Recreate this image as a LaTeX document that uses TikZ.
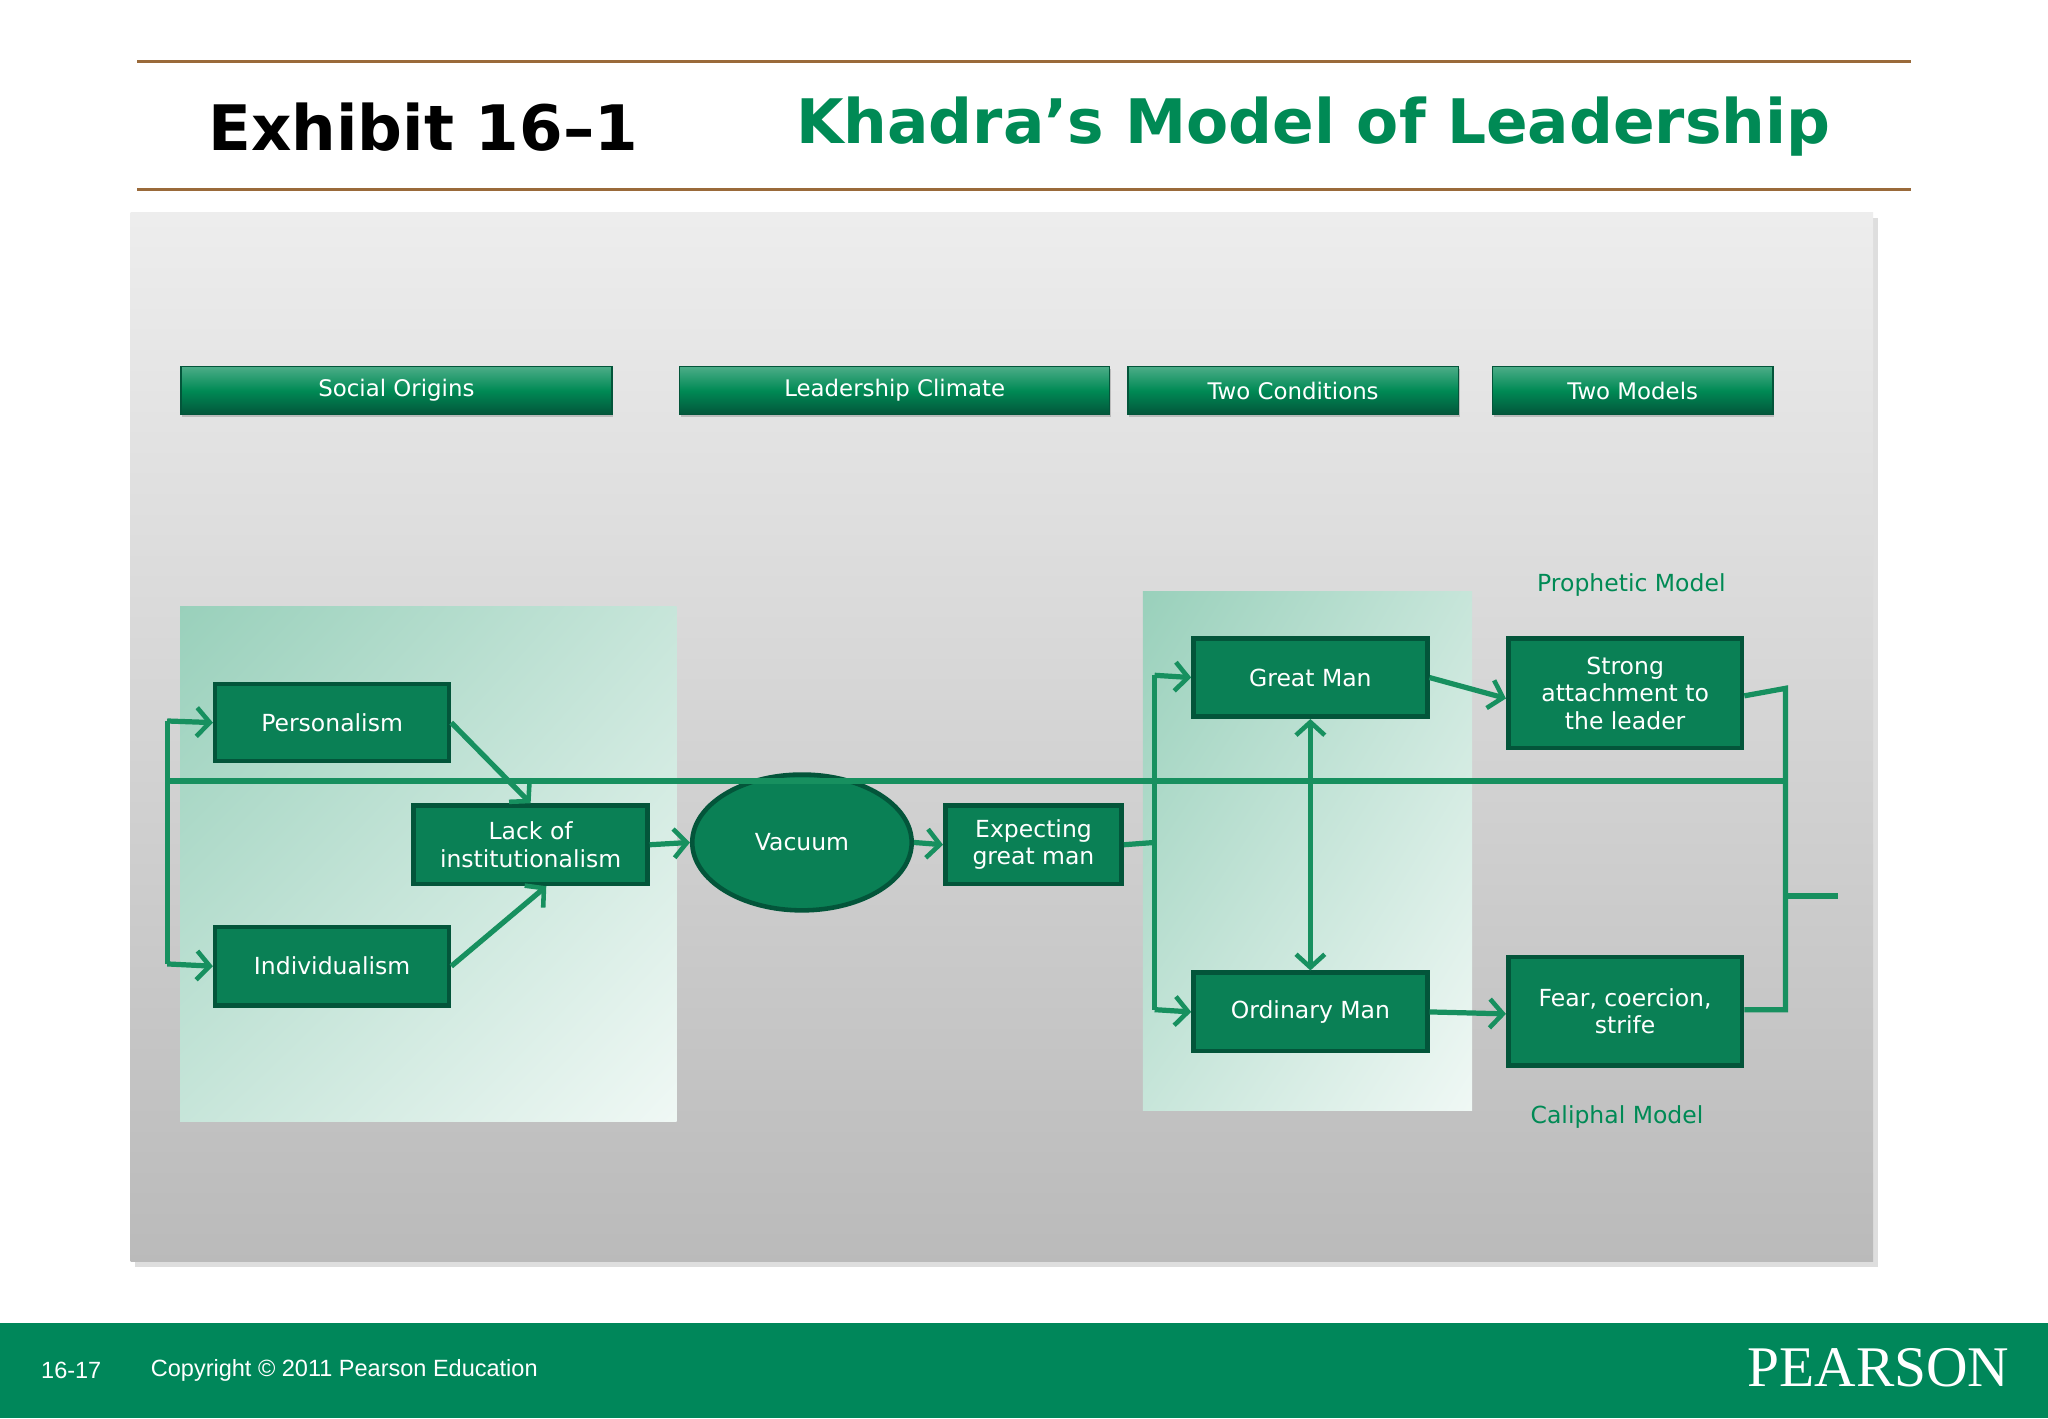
\documentclass[tikz,border=0pt]{standalone}
\usepackage{fontspec}
\setmainfont{DejaVu Sans}
\newfontfamily\arialf{Liberation Sans}
\newfontfamily\serf{Liberation Serif}
\usetikzlibrary{arrows.meta,shadows,shadings,shapes.geometric}
\definecolor{pg}{HTML}{00875A}
\definecolor{bx}{HTML}{0A8055}
\definecolor{bxd}{HTML}{03553A}
\definecolor{ln}{HTML}{17905F}
\definecolor{brn}{HTML}{9A6A3A}
\definecolor{ttl}{HTML}{008A55}
\tikzset{
 gbox/.style={draw=bxd,line width=3.5pt,fill=bx,text=white,font=\fontsize{18}{21}\selectfont,align=center,inner sep=0pt},
 hdr/.style={draw=bxd,line width=1pt,top color=ttl!70!white,bottom color=bxd,middle color=ttl,text=white,font=\fontsize{17.5}{20}\selectfont,inner sep=0pt,drop shadow={shadow xshift=1pt,shadow yshift=-2pt,opacity=.4}},
 conn/.style={draw=ln,line width=4pt},
 tip/.tip={Straight Barb[length=10pt,width=22pt,line width=3.5pt]},
 arr/.style={conn,-tip},
 lbl/.style={text=ttl,font=\fontsize{18}{20}\selectfont}
}
\begin{document}
\begin{tikzpicture}[x=1pt,y=-1pt]
\useasboundingbox (0,0) rectangle (1568,1086);
\fill[white] (0,0) rectangle (1568,1086);
\draw[brn,line width=2.5pt] (105,47) -- (1463,47);
\draw[brn,line width=2.5pt] (105,145) -- (1463,145);
\node[font=\bfseries\fontsize{48}{54}\selectfont,anchor=west] (t1) at (156,97) {Exhibit 16–1};
\node[font=\bfseries\fontsize{47}{54}\selectfont,anchor=west,text=ttl] (t2) at (606,97) {Khadra’s Model of Leadership};
% panel
\fill[black!25,opacity=.5] (103,167) rectangle (1438,970);
\shade[top color=black!7,bottom color=black!27] (100,163) rectangle (1434,966);
% header buttons
\node[hdr,minimum width=330pt,minimum height=37pt,anchor=north west] (h1) at (138,280) {Social Origins};
\node[hdr,minimum width=329pt,minimum height=37pt,anchor=north west] (h2) at (520,280) {Leadership Climate};
\node[hdr,minimum width=253pt,minimum height=37pt,anchor=north west] (h3) at (863,280) {Two Conditions};
\node[hdr,minimum width=215pt,minimum height=37pt,anchor=north west] (h4) at (1142,280) {Two Models};
% green panels
\shade[upper left=ttl!40!white,upper right=ttl!22!white,lower left=ttl!22!white,lower right=ttl!6!white] (138,464) rectangle (518,859);
\shade[upper left=ttl!40!white,upper right=ttl!22!white,lower left=ttl!22!white,lower right=ttl!6!white] (875,453) rectangle (1127,850);
% boxes
\node[gbox,minimum width=179pt,minimum height=59pt,anchor=north west] (pers) at (163,522) {Personalism};
\node[gbox,minimum width=179pt,minimum height=60pt,anchor=north west] (lack) at (315,615) {Lack of\\institutionalism};
\node[gbox,minimum width=179pt,minimum height=60pt,anchor=north west] (ind) at (163,708) {Individualism};
\node[gbox,ellipse,minimum width=168pt,minimum height=104pt] (vac) at (614,645) {Vacuum};
\node[gbox,minimum width=135pt,minimum height=60pt,anchor=north west] (exp) at (722,615) {Expecting\\great man};
\node[gbox,minimum width=179pt,minimum height=60pt,anchor=north west] (gm) at (912,487) {Great Man};
\node[gbox,minimum width=179pt,minimum height=60pt,anchor=north west] (om) at (912,743) {Ordinary Man};
\node[gbox,minimum width=179pt,minimum height=84pt,anchor=north west] (sa) at (1153,487) {Strong\\attachment to\\the leader};
\node[gbox,minimum width=179pt,minimum height=83pt,anchor=north west] (fc) at (1153,731) {Fear, coercion,\\strife};
\node[lbl] (pm) at (1249,448) {Prophetic Model};
\node[lbl] (cm) at (1238,855) {Caliphal Model};
% connectors
\coordinate (lt) at (128,552); \coordinate (lb) at (128,738);
\coordinate (rr) at (1367,598); \coordinate (ll) at (128,598);
\draw[conn] (ll) -- (rr);
\draw[conn] (lt) -- (lb);
\draw[arr] (lt) -- (pers.west);
\draw[arr] (lb) -- (ind.west);
\draw[arr] (pers.east) -- (lack.north);
\draw[arr] (ind.east) -- ([xshift=12pt]lack.south);
\draw[arr] (lack.east) -- (vac.west);
\draw[arr] (vac.east) -- (exp.west);
\coordinate (ej) at (884,645); \coordinate (et) at (884,517); \coordinate (eb) at (884,773);
\draw[conn] (exp.east) -- (ej);
\draw[conn] (et) -- (eb);
\draw[arr] (et) -- (gm.west);
\draw[arr] (eb) -- (om.west);
\draw[conn,tip-tip] (gm.south) -- (om.north);
\draw[arr] (gm.east) -- ([yshift=-4pt]sa.west);
\draw[arr] (om.east) -- ([yshift=-2pt]fc.west);
\coordinate (st) at (1367,527); \coordinate (sb) at (1367,773);
\draw[conn] ([yshift=-2pt]sa.east) -- (st) -- (sb) -- (fc.east |- sb);
\coordinate (m1) at (1367,686); \coordinate (m2) at (1407,686);
\draw[conn] (m1) -- (m2);
% footer
\fill[pg] (0,1013) rectangle (1568,1086);
\node[text=white,font=\arialf\fontsize{18}{20}\selectfont,anchor=west] (pg) at (28,1049) {16-17};
\node[text=white,font=\arialf\fontsize{18}{20}\selectfont,anchor=west] (cp) at (112,1049) {Copyright © 2011 Pearson Education};
\node[text=white,font=\serf\fontsize{44}{48}\selectfont,anchor=east] (ps) at (1542,1047) {PEARSON};
\end{tikzpicture}
\end{document}
